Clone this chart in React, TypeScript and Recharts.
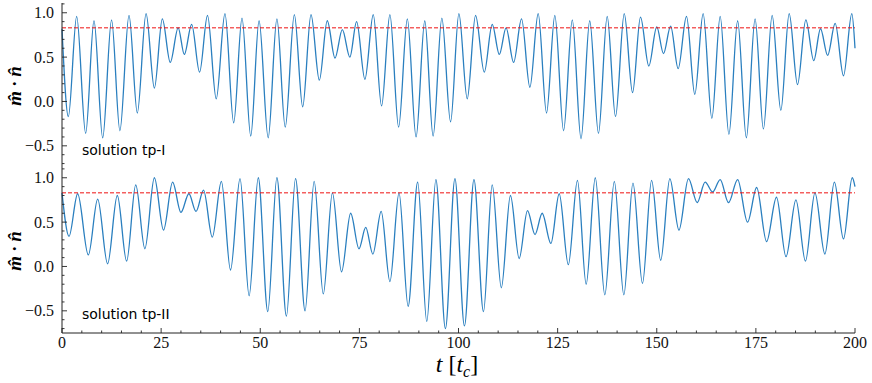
import React from "react";
import { LineChart, Line, XAxis, YAxis, ReferenceLine } from "recharts";

// ---------- data ----------
const t1 = [0, 1.6, 3.7, 5.97, 8.07, 10.26, 12.5, 14.6, 16.9, 19.0, 21.2, 23.3, 25.3, 27.3, 29.3, 30.85, 32.7, 34.7, 36.7, 38.9, 41.1, 43.3, 45.4, 47.6, 49.7, 52.0, 54.2, 56.3, 58.6, 60.7, 62.8, 64.9, 66.9, 68.85, 70.7, 72.6, 74.3, 76.4, 78.5, 80.6, 82.7, 84.9, 87.1, 89.3, 91.5, 93.6, 95.8, 98.0, 100.1, 102.2, 104.3, 106.5, 108.5, 110.3, 112.0, 113.9, 115.9, 118.0, 120.1, 122.2, 124.3, 126.5, 128.7, 130.9, 133.1, 135.3, 137.5, 139.6, 141.8, 143.9, 145.9, 148.0, 150.0, 151.7, 153.5, 155.4, 157.5, 159.6, 161.7, 163.9, 166.0, 168.2, 170.4, 172.6, 174.8, 176.9, 179.1, 181.3, 183.4, 185.5, 187.6, 189.6, 191.3, 193.1, 195.0, 197.1, 199.2, 200];
const v1 = [0.82, -0.17, 0.96, -0.36, 0.91, -0.41, 0.92, -0.33, 0.97, -0.13, 0.99, 0.15, 0.93, 0.44, 0.83, 0.53, 0.87, 0.33, 0.97, 0.03, 0.99, -0.24, 0.94, -0.39, 0.91, -0.41, 0.93, -0.29, 0.98, -0.06, 0.98, 0.24, 0.91, 0.49, 0.81, 0.50, 0.90, 0.25, 0.98, -0.05, 0.98, -0.29, 0.93, -0.40, 0.91, -0.39, 0.94, -0.23, 0.99, 0.03, 0.97, 0.33, 0.87, 0.53, 0.83, 0.44, 0.93, 0.16, 0.99, -0.13, 0.97, -0.33, 0.92, -0.42, 0.91, -0.36, 0.96, -0.17, 0.99, 0.10, 0.95, 0.40, 0.84, 0.54, 0.85, 0.37, 0.96, 0.08, 0.99, -0.19, 0.96, -0.37, 0.91, -0.41, 0.93, -0.31, 0.97, -0.10, 0.99, 0.19, 0.92, 0.46, 0.82, 0.52, 0.88, 0.29, 0.99, 0.6];

const t2 = [0, 1.77, 3.95, 6.64, 9.0, 11.5, 13.95, 16.3, 18.6, 20.9, 23.3, 25.6, 27.9, 30.0, 32.0, 33.8, 35.7, 37.9, 40.2, 42.5, 44.9, 47.2, 49.5, 51.9, 54.2, 56.6, 58.9, 61.3, 63.6, 65.9, 68.2, 70.5, 72.8, 74.9, 76.6, 78.4, 80.5, 82.7, 85.0, 87.3, 89.7, 92.0, 94.3, 96.7, 99.1, 101.5, 103.9, 106.3, 108.5, 110.8, 113.1, 115.3, 117.4, 119.3, 121.1, 123.3, 125.4, 127.7, 130.0, 132.2, 134.5, 136.9, 139.3, 141.7, 144.0, 146.4, 148.7, 151.0, 153.3, 155.6, 158.0, 160.2, 162.2, 164.1, 166.0, 168.1, 170.4, 172.9, 175.2, 177.7, 180.2, 182.6, 185.1, 187.5, 189.9, 192.4, 194.8, 197.1, 199.3, 200];
const v2 = [0.83, 0.34, 0.82, 0.13, 0.76, 0.03, 0.80, 0.06, 0.92, 0.20, 1.0, 0.41, 0.95, 0.61, 0.82, 0.62, 0.86, 0.33, 0.96, -0.04, 0.99, -0.33, 1.0, -0.51, 1.0, -0.56, 0.99, -0.50, 0.96, -0.31, 0.83, -0.06, 0.60, 0.20, 0.44, 0.14, 0.62, -0.17, 0.83, -0.45, 0.95, -0.62, 0.98, -0.70, 0.99, -0.67, 0.98, -0.51, 0.92, -0.24, 0.80, 0.09, 0.63, 0.36, 0.60, 0.26, 0.82, 0.02, 0.97, -0.20, 1.0, -0.32, 0.96, -0.32, 0.94, -0.19, 0.97, 0.07, 0.99, 0.41, 0.99, 0.72, 0.95, 0.84, 0.98, 0.72, 0.98, 0.50, 0.89, 0.28, 0.78, 0.11, 0.75, 0.06, 0.83, 0.14, 0.95, 0.31, 1.0, 0.9];

const threshold = 0.83;
const panelLabels = ["solution tp-I", "solution tp-II"];

const xTicks = [0, 5, 10, 15, 20, 25, 30, 35, 40, 45, 50, 55, 60, 65, 70, 75, 80, 85, 90, 95, 100, 105, 110, 115, 120, 125, 130, 135, 140, 145, 150, 155, 160, 165, 170, 175, 180, 185, 190, 195, 200];
const xMajor = [0, 25, 50, 75, 100, 125, 150, 175, 200];
const yTicks = [-0.7, -0.6, -0.5, -0.4, -0.3, -0.2, -0.1, 0, 0.1, 0.2, 0.3, 0.4, 0.5, 0.6, 0.7, 0.8, 0.9, 1.0, 1.1];
const yMajor = [-0.5, 0, 0.5, 1.0];

const data1 = t1.map((t, i) => ({ t, v: v1[i] }));
const data2 = t2.map((t, i) => ({ t, v: v2[i] }));

// ---------- styling ----------
const SERIF = "'Liberation Serif', 'Times New Roman', serif";
const SANS = "'DejaVu Sans', sans-serif";
const AX = "#222";
const LINE = "#2a7fbf";
const MAJ = 5;
const MIN = 2.5;
const Y_DOMAIN: [number, number] = [-0.75, 1.11];

const isMajX = (v: number) => xMajor.some((m) => Math.abs(m - v) < 1e-6);
const isMajY = (v: number) => yMajor.some((m) => Math.abs(m - v) < 1e-6);
const fmtY = (v: number) => {
  const s = Math.abs(v).toFixed(1);
  return v < -1e-9 ? "\u2212" + s : s;
};

const makeBottomTick = (showLabel: boolean) => (props: any) => {
  const { x, y, payload } = props;
  const v = payload.value;
  const major = isMajX(v);
  return (
    <g>
      <line x1={x} x2={x} y1={y} y2={y - (major ? MAJ : MIN)} stroke={AX} strokeWidth={0.9} />
      {showLabel && major ? (
        <text x={x} y={y + 14.5} textAnchor="middle" fontFamily={SERIF} fontSize={16} fill="#111">
          {v}
        </text>
      ) : null}
    </g>
  );
};

const TopTick = (props: any) => {
  const { x, y, payload } = props;
  const major = isMajX(payload.value);
  return <line x1={x} x2={x} y1={y} y2={y + (major ? MAJ : MIN)} stroke={AX} strokeWidth={0.9} />;
};

const LeftTick = (props: any) => {
  const { x, y, payload } = props;
  const v = payload.value;
  const major = isMajY(v);
  return (
    <g>
      <line x1={x} x2={x + (major ? MAJ : MIN)} y1={y} y2={y} stroke={AX} strokeWidth={0.9} />
      {major ? (
        <text x={x - 8} y={y + 5.5} textAnchor="end" fontFamily={SERIF} fontSize={16} fill="#111">
          {fmtY(v)}
        </text>
      ) : null}
    </g>
  );
};

const RightTick = (props: any) => {
  const { x, y, payload } = props;
  const major = isMajY(payload.value);
  return <line x1={x} x2={x - (major ? MAJ : MIN)} y1={y} y2={y} stroke={AX} strokeWidth={0.9} />;
};

function Panel({ data, height, margin, bottomHeight, showXLabels }: any) {
  return (
    <LineChart width={872} height={height} data={data} margin={margin}>
      <XAxis
        xAxisId="b"
        dataKey="t"
        type="number"
        domain={[0, 200]}
        ticks={xTicks}
        interval={0}
        tickSize={0}
        tickMargin={0}
        tickLine={false}
        height={bottomHeight}
        axisLine={{ stroke: AX, strokeWidth: 1 }}
        tick={makeBottomTick(showXLabels)}
      />
      <XAxis
        xAxisId="top"
        orientation="top"
        dataKey="t"
        type="number"
        domain={[0, 200]}
        ticks={xTicks}
        interval={0}
        tickSize={0}
        tickMargin={0}
        tickLine={false}
        height={0}
        axisLine={{ stroke: AX, strokeWidth: 1 }}
        tick={TopTick}
      />
      <YAxis
        yAxisId="l"
        type="number"
        domain={Y_DOMAIN}
        allowDataOverflow
        ticks={yTicks}
        interval={0}
        tickSize={0}
        tickMargin={0}
        tickLine={false}
        width={62}
        axisLine={{ stroke: AX, strokeWidth: 1 }}
        tick={LeftTick}
      />
      <YAxis
        yAxisId="r"
        orientation="right"
        type="number"
        domain={Y_DOMAIN}
        allowDataOverflow
        ticks={yTicks}
        interval={0}
        tickSize={0}
        tickMargin={0}
        tickLine={false}
        width={0}
        axisLine={{ stroke: AX, strokeWidth: 1 }}
        tick={RightTick}
      />
      <Line
        xAxisId="b"
        yAxisId="l"
        dataKey="v"
        type="monotone"
        stroke={LINE}
        strokeWidth={1.3}
        dot={false}
        activeDot={false}
        isAnimationActive={false}
      />
      <ReferenceLine
        xAxisId="b"
        yAxisId="l"
        y={threshold}
        stroke="#ee1111"
        strokeWidth={1}
        strokeDasharray="4 2"
        ifOverflow="visible"
      />
    </LineChart>
  );
}

export default function App() {
  return (
    <div style={{ position: "absolute", left: 0, top: 0, width: 872, height: 383, background: "#fff" }}>
      <div style={{ position: "absolute", left: 0, top: 0 }}>
        <Panel data={data1} height={170} margin={{ top: 3, right: 17, bottom: 2, left: 0 }} bottomHeight={0} showXLabels={false} />
      </div>
      <div style={{ position: "absolute", left: 0, top: 166 }}>
        <Panel data={data2} height={217} margin={{ top: 2, right: 17, bottom: 0, left: 0 }} bottomHeight={50} showXLabels={true} />
      </div>
      <svg
        width={872}
        height={383}
        style={{ position: "absolute", left: 0, top: 0, pointerEvents: "none" }}
      >
        <text x={82} y={155} fontFamily={SANS} fontSize={14} fill="#000">{panelLabels[0]}</text>
        <text x={82} y={319} fontFamily={SANS} fontSize={14} fill="#000">{panelLabels[1]}</text>
        <text
          transform="translate(21,86) rotate(-90)"
          textAnchor="middle"
          fontFamily={SERIF}
          fontSize={19}
          fontWeight="bold"
          fontStyle="italic"
          fill="#000"
        >
          {"m\u0302 \u00B7 n\u0302"}
        </text>
        <text
          transform="translate(21,251) rotate(-90)"
          textAnchor="middle"
          fontFamily={SERIF}
          fontSize={19}
          fontWeight="bold"
          fontStyle="italic"
          fill="#000"
        >
          {"m\u0302 \u00B7 n\u0302"}
        </text>
        <text x={457} y={372} textAnchor="middle" fontFamily={SERIF} fontSize={24} fill="#000">
          <tspan fontStyle="italic">t</tspan>
          <tspan> [</tspan>
          <tspan fontStyle="italic">t</tspan>
          <tspan fontStyle="italic" fontSize={16} dy={5}>c</tspan>
          <tspan dy={-5}>]</tspan>
        </text>
      </svg>
    </div>
  );
}
